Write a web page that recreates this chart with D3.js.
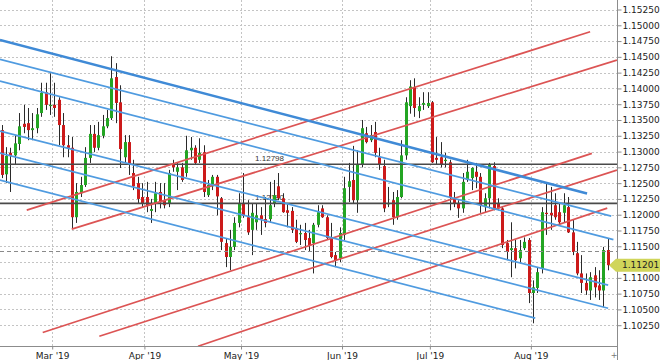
<!DOCTYPE html>
<html>
<head>
<meta charset="utf-8">
<script src="https://cdn.jsdelivr.net/npm/d3@7"></script>
<style>
  body { margin: 0; background: #fff; }
  svg { display: block; font-family: "DejaVu Sans", sans-serif; }
</style>
</head>
<body>
<div id="chart"></div>
<script>
// EURUSD daily, 13 Feb 2019 .. 26 Aug 2019 (one value per trading day)
const opens = [
  1.1334,1.1264,1.1298,1.1294,1.1312,1.1344,1.1345,1.1334,1.1337,1.1361,
  1.1394,1.1372,1.1374,1.1382,1.1342,1.1310,1.1306,1.1196,1.1234,1.1247,
  1.1290,1.1328,1.1306,1.1325,1.1340,1.1353,1.1418,1.1378,1.1291,1.1315,
  1.1266,1.1250,1.1228,1.1228,1.1206,1.1217,1.1236,1.1222,1.1217,1.1279,
  1.1268,1.1275,1.1266,1.1302,1.1306,1.1287,1.1299,1.1231,1.1245,1.1260,
  1.1226,1.1155,1.1133,1.1149,1.1187,1.1217,1.1196,1.1176,1.1188,1.1199,
  1.1193,1.1193,1.1218,1.1245,1.1226,1.1207,1.1206,1.1179,1.1169,1.1171,
  1.1163,1.1155,1.1184,1.1210,1.1196,1.1164,1.1136,1.1131,1.1168,1.1244,
  1.1255,1.1223,1.1280,1.1329,1.1318,1.1331,1.1291,1.1277,1.1217,1.1223,
  1.1196,1.1228,1.1294,1.1372,1.1402,1.1364,1.1374,1.1372,1.1378,1.1290,
  1.1291,1.1285,1.1283,1.1226,1.1218,1.1210,1.1255,1.1258,1.1268,1.1260,
  1.1212,1.1226,1.1277,1.1218,1.1210,1.1155,1.1144,1.1147,1.1131,1.1147,
  1.1160,1.1076,1.1084,1.1115,1.1203,1.1203,1.1215,1.1204,1.1203,1.1212,
  1.1172,1.1139,1.1107,1.1092,1.1080,1.1104,1.1088,1.1080,1.1144
];
const highs = [
  1.1342,1.1307,1.1306,1.1326,1.1361,1.1374,1.1369,1.1361,1.1369,1.1409,
  1.1409,1.1424,1.1409,1.1386,1.1361,1.1326,1.1323,1.1250,1.1260,1.1307,
  1.1342,1.1342,1.1347,1.1358,1.1366,1.1451,1.1440,1.1405,1.1326,1.1326,
  1.1287,1.1260,1.1250,1.1252,1.1225,1.1252,1.1250,1.1250,1.1271,1.1287,
  1.1283,1.1282,1.1325,1.1323,1.1310,1.1321,1.1310,1.1255,1.1263,1.1263,
  1.1228,1.1163,1.1176,1.1196,1.1234,1.1266,1.1223,1.1218,1.1218,1.1212,
  1.1228,1.1252,1.1255,1.1266,1.1234,1.1218,1.1212,1.1192,1.1184,1.1187,
  1.1176,1.1187,1.1215,1.1215,1.1199,1.1187,1.1141,1.1180,1.1260,1.1282,
  1.1309,1.1302,1.1350,1.1339,1.1342,1.1347,1.1306,1.1287,1.1244,1.1236,
  1.1239,1.1318,1.1386,1.1413,1.1416,1.1386,1.1394,1.1394,1.1380,1.1323,
  1.1315,1.1298,1.1287,1.1236,1.1223,1.1266,1.1287,1.1275,1.1282,1.1266,
  1.1234,1.1282,1.1283,1.1226,1.1212,1.1160,1.1188,1.1160,1.1160,1.1164,
  1.1163,1.1096,1.1117,1.1212,1.1250,1.1244,1.1234,1.1218,1.1234,1.1228,
  1.1192,1.1157,1.1136,1.1107,1.1109,1.1117,1.1112,1.1149,1.1163
];
const lows = [
  1.1258,1.1250,1.1236,1.1279,1.1302,1.1329,1.1318,1.1318,1.1329,1.1355,
  1.1366,1.1358,1.1355,1.1310,1.1291,1.1291,1.1179,1.1187,1.1228,1.1244,
  1.1282,1.1299,1.1302,1.1321,1.1337,1.1350,1.1345,1.1274,1.1282,1.1263,
  1.1239,1.1218,1.1212,1.1204,1.1187,1.1204,1.1210,1.1210,1.1212,1.1268,
  1.1239,1.1252,1.1260,1.1287,1.1279,1.1282,1.1228,1.1228,1.1239,1.1199,
  1.1144,1.1117,1.1112,1.1144,1.1180,1.1195,1.1168,1.1136,1.1176,1.1168,
  1.1180,1.1187,1.1212,1.1223,1.1203,1.1180,1.1171,1.1155,1.1152,1.1144,
  1.1141,1.1107,1.1180,1.1195,1.1160,1.1131,1.1117,1.1125,1.1160,1.1220,
  1.1218,1.1203,1.1275,1.1313,1.1315,1.1291,1.1271,1.1204,1.1212,1.1184,
  1.1192,1.1226,1.1287,1.1360,1.1355,1.1353,1.1366,1.1369,1.1282,1.1279,
  1.1275,1.1275,1.1207,1.1212,1.1195,1.1203,1.1252,1.1239,1.1242,1.1203,
  1.1204,1.1210,1.1207,1.1207,1.1147,1.1128,1.1101,1.1115,1.1123,1.1144,
  1.1060,1.1028,1.1076,1.1107,1.1168,1.1176,1.1192,1.1184,1.1187,1.1171,
  1.1136,1.1104,1.1076,1.1073,1.1065,1.1069,1.1065,1.1054,1.1112
];
const closes = [
  1.1263,1.1293,1.1293,1.1313,1.1340,1.1339,1.1334,1.1337,1.1359,1.1393,
  1.1374,1.1374,1.1369,1.1342,1.1310,1.1306,1.1196,1.1236,1.1247,1.1290,
  1.1328,1.1306,1.1326,1.1340,1.1353,1.1416,1.1377,1.1304,1.1315,1.1279,
  1.1245,1.1225,1.1218,1.1215,1.1209,1.1234,1.1220,1.1215,1.1266,1.1275,
  1.1275,1.1255,1.1302,1.1306,1.1282,1.1298,1.1236,1.1247,1.1260,1.1229,
  1.1157,1.1133,1.1149,1.1187,1.1218,1.1198,1.1172,1.1203,1.1199,1.1193,
  1.1187,1.1215,1.1231,1.1226,1.1204,1.1203,1.1176,1.1157,1.1171,1.1160,
  1.1152,1.1184,1.1204,1.1196,1.1163,1.1133,1.1128,1.1171,1.1242,1.1253,
  1.1223,1.1279,1.1337,1.1315,1.1326,1.1298,1.1279,1.1210,1.1218,1.1196,
  1.1228,1.1294,1.1378,1.1403,1.1369,1.1372,1.1377,1.1377,1.1283,1.1287,
  1.1280,1.1287,1.1228,1.1217,1.1210,1.1252,1.1268,1.1274,1.1260,1.1215,
  1.1226,1.1279,1.1210,1.1210,1.1152,1.1141,1.1147,1.1128,1.1144,1.1157,
  1.1076,1.1085,1.1109,1.1204,1.1201,1.1199,1.1196,1.1188,1.1215,1.1172,
  1.1141,1.1107,1.1092,1.1080,1.1101,1.1085,1.1080,1.1144,1.11201
];

const priceTicks = [
  1.1025,1.1050,1.1075,1.1100,1.1125,1.1150,1.1175,1.1200,1.1225,1.1250,1.1275,
  1.1300,1.1325,1.1350,1.1375,1.1400,1.1425,1.1450,1.1475,1.1500,1.1525
];

// horizontal levels
const levelPrices = [1.12798, 1.12180];
const levelLabels = ["1.12798", "1.12180"];
const prevClose = 1.11428;
const lastPrice = 1.11201;

// trend lines as [bar index, price] -> [bar index, price]
const blueMain = [[-0.4, 1.14767, 133.3, 1.12334]];
const blueLines = [
  [-0.4, 1.14461, 138.8, 1.11977],
  [-0.4, 1.14117, 139.3, 1.11605],
  [-0.4, 1.13325, 138.1, 1.10884],
  [-0.4, 1.12976, 138.1, 1.10519],
  [-0.4, 1.12548, 121.5, 1.10361]
];
const redLines = [
  [5.7, 1.12072, 134.0, 1.14898],
  [15.95, 1.11771, 140.1, 1.14450],
  [9.34, 1.10134, 134.4, 1.12971],
  [22.23, 1.10076, 140.1, 1.12706],
  [44.7, 1.09917, 137.9, 1.12104]
];

const days = d3.utcDays(new Date(Date.UTC(2019, 1, 13)), new Date(Date.UTC(2019, 7, 27)))
  .filter(d => d.getUTCDay() !== 0 && d.getUTCDay() !== 6);

const bars = days.map((d, i) => ({
  i: i, date: d, o: opens[i], h: highs[i], l: lows[i], c: closes[i]
}));

const monthIdx = bars.filter((b, i) => i > 0 && b.date.getUTCMonth() !== days[i - 1].getUTCMonth()).map(b => b.i);

const width = 660, height = 360;
const plotR = 617, plotB = 346;

const x = d3.scaleLinear().domain([0, bars.length - 1]).range([1.7, 607.7]);
const y = d3.scaleLinear().domain([1.1025, 1.1525]).range([325.2, 9.5]);

const svg = d3.select("#chart").append("svg")
  .attr("width", width)
  .attr("height", height);

svg.append("defs").append("clipPath").attr("id", "plot")
  .append("rect").attr("x", 0).attr("y", 0).attr("width", plotR).attr("height", plotB);

const grid = svg.append("g");
grid.selectAll(".hg").data(priceTicks).enter().append("line")
  .attr("x1", 0).attr("x2", plotR)
  .attr("y1", d => Math.round(y(d)) + 0.5).attr("y2", d => Math.round(y(d)) + 0.5)
  .attr("stroke", "#c4c4c4").attr("stroke-dasharray", "2,2");
grid.selectAll(".vg").data(monthIdx).enter().append("line")
  .attr("x1", d => Math.round(x(d - 0.5)) + 0.5).attr("x2", d => Math.round(x(d - 0.5)) + 0.5)
  .attr("y1", 0).attr("y2", plotB)
  .attr("stroke", "#c4c4c4").attr("stroke-dasharray", "2,2");

const plot = svg.append("g").attr("clip-path", "url(#plot)");

// level labels sit under the candles
plot.selectAll(".lvl-label").data(levelPrices).enter().append("text")
  .attr("x", x(57.7))
  .attr("y", d => y(d) - 3)
  .style("font-family", "'Liberation Sans', sans-serif")
  .style("font-size", "8px")
  .style("fill", "#333")
  .text((d, i) => levelLabels[i]);

// candles
const candle = plot.selectAll(".bar").data(bars).enter().append("g");
candle.append("line")
  .attr("x1", d => Math.round(x(d.i)) + 0.5).attr("x2", d => Math.round(x(d.i)) + 0.5)
  .attr("y1", d => y(d.h)).attr("y2", d => y(d.l))
  .attr("stroke", "#2a2a2a").attr("stroke-width", 1);
candle.append("rect")
  .attr("x", d => Math.round(x(d.i)) - 1)
  .attr("width", 3)
  .attr("y", d => y(Math.max(d.o, d.c)))
  .attr("height", d => Math.max(1, Math.abs(y(d.o) - y(d.c))))
  .attr("fill", d => d.c >= d.o ? "#23a523" : "#cc1a1a");

// horizontal levels
plot.selectAll(".lvl").data(levelPrices).enter().append("line")
  .attr("x1", 0).attr("x2", plotR)
  .attr("y1", d => y(d)).attr("y2", d => y(d))
  .attr("stroke", "#4a4a4a").attr("stroke-width", 1.6);

plot.append("line")
  .attr("x1", 0).attr("x2", plotR)
  .attr("y1", Math.round(y(prevClose)) + 0.5).attr("y2", Math.round(y(prevClose)) + 0.5)
  .attr("stroke", "#8a8a8a").attr("stroke-dasharray", "4,3");

// trend channels
function drawLines(data, color, w) {
  plot.selectAll(null).data(data).enter().append("line")
    .attr("x1", d => x(d[0])).attr("y1", d => y(d[1]))
    .attr("x2", d => x(d[2])).attr("y2", d => y(d[3]))
    .attr("stroke", color).attr("stroke-width", w);
}
drawLines(redLines, "#dc5454", 1.7);
drawLines(blueLines, "#4f9be0", 1.7);
drawLines(blueMain, "#3f8ad6", 2.6);

// axes (the label hidden behind the last-price tag is left out)
const ly = y(lastPrice);
const fmt = d3.format(".5f");

svg.append("g")
  .attr("transform", `translate(${plotR + 0.5},0)`)
  .call(d3.axisRight(y).tickValues(priceTicks)
    .tickFormat(d => Math.abs(y(d) - ly) < 8 ? "" : fmt(d)).tickSize(4).tickPadding(1))
  .call(g => g.select(".domain").remove())
  .call(g => g.selectAll("line").attr("stroke", "#8c8c8c"))
  .call(g => g.selectAll("text").style("font-size", "9px").style("fill", "#222")
    .style("font-family", "'DejaVu Sans', sans-serif"));

svg.append("g")
  .attr("transform", `translate(0,${plotB + 0.5})`)
  .call(d3.axisBottom(x).tickValues(monthIdx.map(i => i - 0.5))
    .tickFormat(v => d3.utcFormat("%b '%y")(days[v + 0.5])).tickSize(3).tickPadding(3))
  .call(g => g.select(".domain").remove())
  .call(g => g.selectAll("line").attr("stroke", "#8c8c8c"))
  .call(g => g.selectAll("text").style("font-size", "9px").style("fill", "#222")
    .style("font-family", "'DejaVu Sans', sans-serif"));

svg.append("line")
  .attr("x1", plotR + 0.5).attr("x2", plotR + 0.5).attr("y1", 0).attr("y2", height)
  .attr("stroke", "#8c8c8c");
svg.append("line")
  .attr("x1", 0).attr("x2", plotR + 0.5).attr("y1", plotB + 0.5).attr("y2", plotB + 0.5)
  .attr("stroke", "#8c8c8c");

// last price tag
svg.append("path")
  .attr("d", `M${plotR - 8},${ly} L${plotR - 1},${ly - 6.5} L${width},${ly - 6.5} L${width},${ly + 6.5} L${plotR - 1},${ly + 6.5} Z`)
  .attr("fill", "#d0d55a");
svg.append("text")
  .attr("x", plotR + 5).attr("y", ly).attr("dy", "0.35em")
  .style("font-size", "9px").style("fill", "#222")
  .text(fmt(lastPrice));

svg.append("text")
  .attr("x", plotR - 3).attr("y", 358)
  .attr("text-anchor", "middle")
  .style("font-size", "8px").style("fill", "#777")
  .text("+");
</script>
</body>
</html>
